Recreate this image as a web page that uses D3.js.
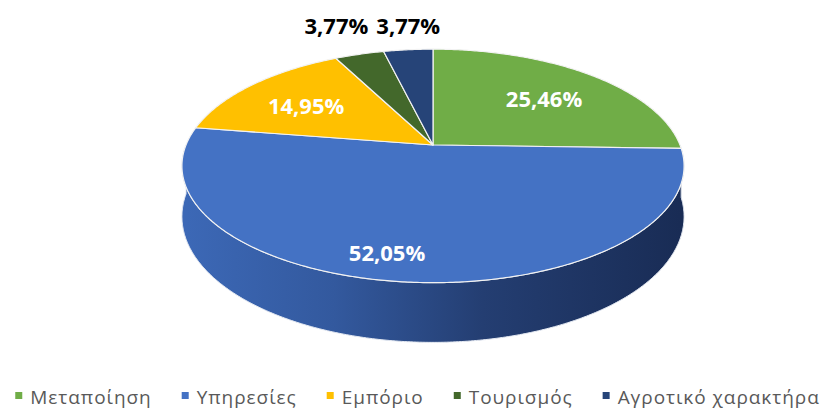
<!DOCTYPE html>
<html>
<head>
<meta charset="utf-8">
<script src="https://cdn.jsdelivr.net/npm/d3@7"></script>
<style>
  body { margin: 0; background: #fff; }
  svg { display: block; }
</style>
</head>
<body>
<div id="chart-container" style="width:827px;height:409px"></div>
<script>
var categories = ["Μεταποίηση", "Υπηρεσίες", "Εμπόριο", "Τουρισμός", "Αγροτικό χαρακτήρα"];
var values = [25.46, 52.05, 14.95, 3.77, 3.77];
var labels = ["25,46%", "52,05%", "14,95%", "3,77%", "3,77%"];
var colors = ["#70AD47", "#4472C4", "#FFC000", "#43682B", "#264478"];
var sideColors = [["#62a03c", "#3f6a26"], ["#3c68b6", "#192c55"], ["#e0a800", "#9a7300"], ["#3a5a22", "#24391a"], ["#22406f", "#14254a"]];

var width = 827,
    height = 409,
    cx = 433,
    cy = 145,
    rx = 247,
    ry = 113,
    depth = 49,
    persp = 5.58;

var xScale = d3.scaleLinear().domain([-1, 1]).range([cx - rx, cx + rx]);
var yScale = d3.scaleLinear().domain([-1, 1]).range([cy - ry, cy + ry]);

// angle clockwise from 12 o'clock, r in pie plane, z drop below top face
function proj(a, r, z) {
    var u = r * Math.sin(a), v = -r * Math.cos(a);
    var p = persp / (persp - v);
    return [xScale(u * p), yScale(v * p) + (z || 0) * p];
}

function arcPoints(a0, a1, z) {
    var n = Math.max(2, Math.ceil((a1 - a0) / 0.01));
    var pts = [];
    for (var i = 0; i <= n; i++) pts.push(proj(a0 + (a1 - a0) * i / n, 1, z));
    return pts;
}

var pie = d3.pie().sort(null).value(d => d);
var arcs = pie(values);

var svg = d3.select("#chart-container").append("svg")
    .attr("width", width)
    .attr("height", height);

var defs = svg.append("defs");
arcs.forEach(function (d, i) {
    var g = defs.append("linearGradient")
        .attr("id", "side" + i)
        .attr("gradientUnits", "userSpaceOnUse")
        .attr("x1", cx - rx).attr("x2", cx + rx)
        .attr("y1", 0).attr("y2", 0);
    var mix = d3.interpolateRgb(sideColors[i][0], sideColors[i][1]);
    g.append("stop").attr("offset", "0").attr("stop-color", sideColors[i][0]);
    g.append("stop").attr("offset", "0.3").attr("stop-color", mix(0.25));
    g.append("stop").attr("offset", "0.6").attr("stop-color", mix(0.7));
    g.append("stop").attr("offset", "1").attr("stop-color", sideColors[i][1]);
});

var line = d3.line();

// side walls (front half only)
var sides = svg.append("g").attr("class", "sides");
arcs.forEach(function (d, i) {
    var a0 = Math.max(d.startAngle, Math.PI / 2),
        a1 = Math.min(d.endAngle, Math.PI * 3 / 2);
    if (a1 <= a0) return;
    var top = arcPoints(a0, a1, 0);
    var bottom = arcPoints(a0, a1, depth).reverse();
    sides.append("path")
        .attr("d", line(top.concat(bottom)) + "Z")
        .attr("fill", "url(#side" + i + ")")
        .attr("stroke", "#e4e9f2")
        .attr("stroke-width", 1)
        .attr("stroke-linejoin", "round");
});

// top faces
var tops = svg.append("g").attr("class", "tops");
arcs.forEach(function (d, i) {
    var pts = [proj(0, 0, 0)].concat(arcPoints(d.startAngle, d.endAngle, 0));
    tops.append("path")
        .attr("d", line(pts) + "Z")
        .attr("fill", colors[i])
        .attr("stroke", "#f2f2f2")
        .attr("stroke-width", 1.2)
        .attr("stroke-linejoin", "round");
});

// data labels
var labelGroup = svg.append("g")
    .attr("font-family", "'Open Sans', 'Noto Sans', sans-serif")
    .attr("font-weight", 700)
    .attr("font-size", 22)
    .attr("text-anchor", "middle");
var topEdge = proj(0, 1, 0)[1];
var outside = [];
arcs.forEach(function (d, i) {
    var mid = (d.startAngle + d.endAngle) / 2;
    var small = (d.endAngle - d.startAngle) < 0.4;
    var pos;
    if (small) {
        pos = [proj(mid, 1, 0)[0], topEdge - 26];
    } else if (d.endAngle - d.startAngle > Math.PI) {
        pos = proj(mid + 0.105, 0.81, 0);
    } else {
        pos = proj(mid, 0.68, 0);
    }
    var t = labelGroup.append("text")
        .attr("x", pos[0])
        .attr("y", pos[1])
        .attr("dy", "0.5em")
        .attr("fill", small ? "#000" : "#fff")
        .text(labels[i]);
    if (small) outside.push({ t: t, x: pos[0], w: t.node().getComputedTextLength() });
});
// push outside labels leftwards so they don't collide
for (var k = outside.length - 2; k >= 0; k--) {
    var right = outside[k + 1];
    var maxX = right.x - right.w / 2 - 8 - outside[k].w / 2;
    if (outside[k].x > maxX) outside[k].x = maxX;
    outside[k].t.attr("x", outside[k].x);
}

// legend
var legend = svg.append("g")
    .attr("font-family", "'Open Sans', 'Noto Sans', sans-serif")
    .attr("font-size", 19)
    .attr("letter-spacing", 0.95)
    .attr("fill", "#595959");
var lx = 0, items = [];
categories.forEach(function (c, i) {
    var g = legend.append("g");
    g.append("rect").attr("width", 7).attr("height", 7).attr("y", -5).attr("fill", colors[i]);
    var t = g.append("text").attr("x", 15).attr("y", 0).attr("dy", "0.35em").text(c);
    var w = 15 + t.node().getComputedTextLength();
    items.push({ g: g, x: lx });
    lx += w + 30;
});
var total = lx - 30;
var startX = (width - total) / 2 + 4;
items.forEach(function (it) {
    it.g.attr("transform", "translate(" + (startX + it.x) + ",397)");
});
</script>
</body>
</html>
